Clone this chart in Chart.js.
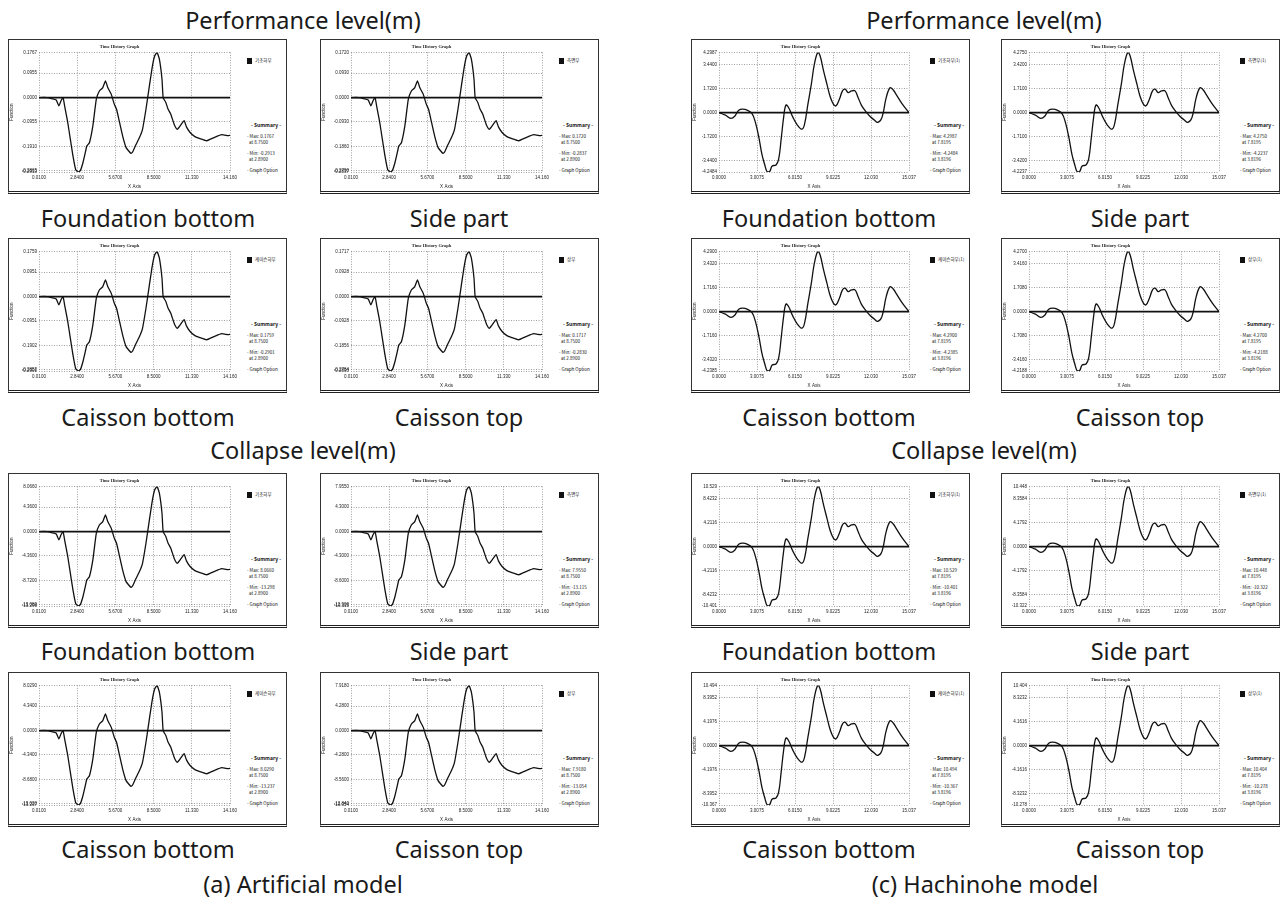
<!DOCTYPE html>
<html>
<head>
<meta charset="utf-8">
<script src="https://cdn.jsdelivr.net/npm/chart.js@4.4.0/dist/chart.umd.min.js"></script>
<style>
  body { margin: 0; background: #fff; }
  #page { position: relative; width: 1284px; height: 899px; overflow: hidden; font-family: "Noto Sans", sans-serif; }
  .cap { position: absolute; font-size: 23.5px; color: #1a1a1a; transform: translate(-50%, -50%); white-space: nowrap; }
  .panel { position: absolute; width: 279px; height: 155px; box-sizing: border-box; border: 1px solid #333; border-bottom: 3px double #222; background: #fff; }
  .panel canvas { position: absolute; left: 0; top: 0; }
  .side { position: absolute; left: 236px; font-family: "Noto Sans CJK KR", sans-serif; font-size: 4.5px; line-height: 6px; color: #111; white-space: nowrap; }
  .sq { display: inline-block; width: 5px; height: 6px; background: #111; vertical-align: middle; margin-right: 3px; }
</style>
</head>
<body>
<div id="page"></div>
<script>
// time in grid divisions (0-5), displacement in grid divisions
const artTime = [0, 0.2, 0.35, 0.45, 0.52, 0.58, 0.63, 0.67, 0.75, 0.82,
  0.89, 0.96, 1.02, 1.08, 1.15, 1.22, 1.25, 1.32, 1.41, 1.5,
  1.58, 1.67, 1.74, 1.8, 1.89, 1.97, 2.03, 2.1, 2.19, 2.28,
  2.41, 2.45, 2.54, 2.63, 2.71, 2.8, 2.89, 2.97, 3.03, 3.09,
  3.15, 3.22, 3.25, 3.32, 3.38, 3.45, 3.54, 3.62, 3.7, 3.8,
  3.86, 3.95, 4.08, 4.21, 4.39, 4.6, 4.78, 4.95, 5.0];
const artDisp = [0, 0, -0.05, -0.1, -0.34, -0.12, 0, -0.34, -1.0, -1.7,
  -2.4, -2.95, -3.05, -3.0, -2.67, -2.2, -1.99, -1.85, -1.16, -0.07,
  0.27, 0.41, 0.68, 0.41, 0.14, -0.27, -0.48, -0.96, -1.58, -2.05,
  -2.29, -2.23, -1.92, -1.64, -1.3, -0.48, 0.48, 1.3, 1.71, 1.85,
  1.58, 0.75, 0, -0.2, -0.48, -0.68, -1.1, -1.3, -1.15, -0.95,
  -1.2, -1.42, -1.6, -1.68, -1.77, -1.63, -1.52, -1.56, -1.55];

const hachiTime = [0, 0.17, 0.31, 0.42, 0.52, 0.63, 0.74, 0.87, 0.96, 1.05,
  1.13, 1.2, 1.27, 1.33, 1.4, 1.5, 1.57, 1.64, 1.7, 1.76,
  1.83, 1.94, 2.05, 2.18, 2.25, 2.34, 2.43, 2.51, 2.6, 2.66,
  2.75, 2.84, 2.92, 3.01, 3.08, 3.17, 3.25, 3.32, 3.4, 3.49,
  3.58, 3.66, 3.75, 3.86, 3.97, 4.08, 4.18, 4.29, 4.4, 4.5,
  4.58, 4.66, 4.83, 5.0];
const hachiDisp = [0, -0.11, -0.24, -0.14, 0.1, 0.14, 0.1, -0.04, -0.42, -1.04,
  -1.74, -2.15, -2.47, -2.46, -2.22, -2.18, -1.94, -1.04, -0.21, 0.31,
  0.21, -0.18, -0.49, -0.69, -0.49, 0.35, 1.18, 2.01, 2.5, 2.36,
  1.74, 1.18, 0.69, 0.35, 0.28, 0.56, 0.9, 0.97, 0.83, 0.9,
  0.9, 0.63, 0.3, 0.05, -0.15, -0.3, -0.41, -0.2, 0.62, 1.03,
  0.95, 0.76, 0.34, 0];

const artXLabels = ['0.0100', '2.8400', '5.6700', '8.5000', '11.330', '14.160'];
const hachiXLabels = ['0.0000', '3.0075', '6.0150', '9.0225', '12.030', '15.037'];
const artYTicks = [1.85, 1, 0, -1, -2, -3, -3.05];
const hachiYTicks = [2.5, 2, 1, 0, -1, -2, -2.47];

const artPerfFound = ['0.1767', '0.0955', '0.0000', '-0.0955', '-0.1910', '-0.2865', '-0.2913'];
const artPerfSide = ['0.1720', '0.0930', '0.0000', '-0.0930', '-0.1860', '-0.2790', '-0.2837'];
const artPerfCBot = ['0.1759', '0.0951', '0.0000', '-0.0951', '-0.1902', '-0.2853', '-0.2901'];
const artPerfCTop = ['0.1717', '0.0928', '0.0000', '-0.0928', '-0.1856', '-0.2784', '-0.2830'];
const artColFound = ['8.0660', '4.3600', '0.0000', '-4.3600', '-8.7200', '-13.080', '-13.298'];
const artColSide = ['7.9550', '4.3000', '0.0000', '-4.3000', '-8.6000', '-12.900', '-13.115'];
const artColCBot = ['8.0290', '4.3400', '0.0000', '-4.3400', '-8.6800', '-13.020', '-13.237'];
const artColCTop = ['7.9180', '4.2800', '0.0000', '-4.2800', '-8.5600', '-12.840', '-13.054'];
const hachiPerfFound = ['4.2987', '3.4400', '1.7200', '0.0000', '-1.7200', '-3.4400', '-4.2484'];
const hachiPerfSide = ['4.2750', '3.4200', '1.7100', '0.0000', '-1.7100', '-3.4200', '-4.2237'];
const hachiPerfCBot = ['4.2900', '3.4320', '1.7160', '0.0000', '-1.7160', '-3.4320', '-4.2385'];
const hachiPerfCTop = ['4.2700', '3.4160', '1.7080', '0.0000', '-1.7080', '-3.4160', '-4.2188'];
const hachiColFound = ['10.529', '8.4232', '4.2116', '0.0000', '-4.2116', '-8.4232', '-10.401'];
const hachiColSide = ['10.448', '8.3584', '4.1792', '0.0000', '-4.1792', '-8.3584', '-10.322'];
const hachiColCBot = ['10.494', '8.3952', '4.1976', '0.0000', '-4.1976', '-8.3952', '-10.367'];
const hachiColCTop = ['10.404', '8.3232', '4.1616', '0.0000', '-4.1616', '-8.3232', '-10.278'];

const artNames = ['기초하부', '측면부', '케이슨하부', '상부'];
const hachiNames = ['기초하부(1)', '측면부(1)', '케이슨하부(1)', '상부(1)'];
const locations = ['Foundation bottom', 'Side part', 'Caisson bottom', 'Caisson top'];

const page = document.getElementById('page');
const colLeft = [8, 320, 691, 1001];
const rowTop = [39, 238, 473, 672];

function caption(text, cx, cy) {
  const el = document.createElement('div');
  el.className = 'cap';
  el.textContent = text;
  el.style.left = cx + 'px';
  el.style.top = cy + 'px';
  page.appendChild(el);
}

function makePanel(col, row, model, yLabels, name) {
  const art = model === 'art';
  const time = art ? artTime : hachiTime;
  const disp = art ? artDisp : hachiDisp;
  const xLabels = art ? artXLabels : hachiXLabels;
  const yTicks = art ? artYTicks : hachiYTicks;

  const panel = document.createElement('div');
  panel.className = 'panel';
  panel.style.left = colLeft[col] + 'px';
  panel.style.top = rowTop[row] + 'px';
  page.appendChild(panel);

  const canvas = document.createElement('canvas');
  canvas.width = 236;
  canvas.height = 151;
  panel.appendChild(canvas);

  const side = document.createElement('div');
  side.className = 'side';
  side.style.top = '0px';
  side.innerHTML =
    '<div style="position:absolute;top:17px;left:2px"><span class="sq"></span>' + name + '</div>' +
    '<div style="position:absolute;top:82px;left:6px;font-weight:bold;font-size:5px">- Summary -</div>' +
    '<div style="position:absolute;top:93px;left:2px">- Max: ' + yLabels[0] + '<br>&nbsp;&nbsp;at ' + (art ? '8.7500' : '7.8195') + '</div>' +
    '<div style="position:absolute;top:110px;left:2px">- Min: ' + yLabels[yLabels.length - 1] + '<br>&nbsp;&nbsp;at ' + (art ? '2.8900' : '3.8196') + '</div>' +
    '<div style="position:absolute;top:127px;left:2px">- Graph Option</div>';
  panel.appendChild(side);

  const tickFont = { size: 4.5, family: 'Liberation Sans' };
  new Chart(canvas, {
    type: 'line',
    data: {
      datasets: [
        {
          data: time.map((t, i) => ({ x: t, y: disp[i] })),
          borderColor: '#111',
          borderWidth: 1.3,
          pointRadius: 0,
          tension: art ? 0.15 : 0.4,
        },
        {
          data: [{ x: 0, y: 0 }, { x: 5, y: 0 }],
          borderColor: '#111',
          borderWidth: 1.8,
          pointRadius: 0,
        },
      ],
    },
    options: {
      responsive: false,
      animation: false,
      events: [],
      layout: { padding: { left: 0, right: art ? 15 : 19, top: 0, bottom: 2 } },
      plugins: {
        legend: { display: false },
        tooltip: { enabled: false },
        title: {
          display: true,
          text: 'Time History Graph',
          color: '#222',
          font: { size: 4.5, weight: 'bold', family: 'Liberation Serif' },
          padding: { top: 4, bottom: 3 },
        },
      },
      scales: {
        x: {
          type: 'linear',
          min: 0,
          max: 5,
          afterBuildTicks: (s) => { s.ticks = [0, 1, 2, 3, 4, 5].map((v) => ({ value: v })); },
          afterFit: (s) => { s.height = 17; },
          ticks: { callback: (v, i) => xLabels[i], font: tickFont, color: '#222', maxRotation: 0, autoSkip: false, padding: 3 },
          grid: { color: '#777', lineWidth: 0.7, drawTicks: false },
          border: { display: false, dash: [1, 1.5] },
          title: { display: true, text: 'X Axis', color: '#222', font: tickFont, padding: 0 },
        },
        y: {
          type: 'linear',
          min: yTicks[yTicks.length - 1],
          max: yTicks[0],
          afterBuildTicks: (s) => { s.ticks = yTicks.map((v) => ({ value: v })); },
          afterFit: (s) => { s.width = art ? 30 : 27; },
          ticks: { callback: (v, i) => yLabels[i], font: tickFont, color: '#222', autoSkip: false, padding: 2 },
          grid: { color: '#777', lineWidth: 0.7, drawTicks: false },
          border: { display: false, dash: [1, 1.5] },
          title: { display: true, text: 'Function', color: '#222', font: tickFont, padding: 0 },
        },
      },
    },
  });
}

caption('Performance level(m)', 303, 20);
caption('Performance level(m)', 984, 20);
caption('Collapse level(m)', 303, 450);
caption('Collapse level(m)', 984, 450);
caption('(a) Artificial model', 303, 884);
caption('(c) Hachinohe model', 985, 884);

const labelRows = [218, 417, 651, 849];
const colCenter = [148, 459, 829, 1140];
for (let r = 0; r < 4; r++) {
  for (let c = 0; c < 4; c++) {
    caption(locations[(r % 2) * 2 + (c % 2)], colCenter[c], labelRows[r]);
  }
}

makePanel(0, 0, 'art', artPerfFound, artNames[0]);
makePanel(1, 0, 'art', artPerfSide, artNames[1]);
makePanel(0, 1, 'art', artPerfCBot, artNames[2]);
makePanel(1, 1, 'art', artPerfCTop, artNames[3]);
makePanel(0, 2, 'art', artColFound, artNames[0]);
makePanel(1, 2, 'art', artColSide, artNames[1]);
makePanel(0, 3, 'art', artColCBot, artNames[2]);
makePanel(1, 3, 'art', artColCTop, artNames[3]);
makePanel(2, 0, 'hachi', hachiPerfFound, hachiNames[0]);
makePanel(3, 0, 'hachi', hachiPerfSide, hachiNames[1]);
makePanel(2, 1, 'hachi', hachiPerfCBot, hachiNames[2]);
makePanel(3, 1, 'hachi', hachiPerfCTop, hachiNames[3]);
makePanel(2, 2, 'hachi', hachiColFound, hachiNames[0]);
makePanel(3, 2, 'hachi', hachiColSide, hachiNames[1]);
makePanel(2, 3, 'hachi', hachiColCBot, hachiNames[2]);
makePanel(3, 3, 'hachi', hachiColCTop, hachiNames[3]);
</script>
</body>
</html>
